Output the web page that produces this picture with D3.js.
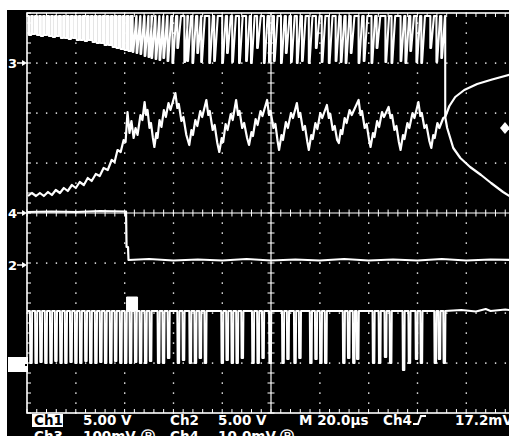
<!DOCTYPE html>
<html>
<head>
<meta charset="utf-8">
<script src="https://cdn.jsdelivr.net/npm/d3@7"></script>
<style>
  html, body { margin: 0; padding: 0; background: #fff; }
  svg { display: block; }
</style>
</head>
<body>
<div id="chart"></div>
<script>
// tempo em µs (10 div x 20 µs), tensão em divisões de tela
const ch3Trace = [[0.4,0.34],[2.0,0.40],[3.7,0.34],[5.3,0.40],[6.9,0.34],[8.6,0.42],[10.2,0.36],[11.8,0.46],[13.5,0.40],[15.1,0.50],[16.7,0.44],[18.4,0.56],[20.0,0.50],[21.6,0.62],[23.3,0.56],[24.9,0.70],[26.5,0.64],[28.2,0.78],[29.8,0.74],[31.4,0.90],[33.1,0.86],[34.7,1.06],[35.9,1.02],[37.1,1.26],[38.4,1.22],[39.6,1.46],[40.4,1.42],
  [41.2,2.02],[42.0,1.6],[42.8,1.84],[43.7,1.5],[44.5,1.7],[45.3,1.56],[46.5,1.96],[47.3,1.86],[48.2,2.22],[48.8,1.96],[49.4,2.06],[50.2,1.7],[50.8,1.8],[51.6,1.5],[52.2,1.32],
  [53.0,1.6],[53.5,1.5],[54.3,1.86],[55.1,1.72],[56.1,2.06],[56.9,1.92],[58.0,2.2],[58.8,2.06],[60.8,2.40],[61.6,2.1],[62.2,2.18],[63.3,1.84],[64.1,1.92],[65.3,1.56],[66.5,1.36],
  [67.4,1.66],[68.0,1.56],[69.0,1.86],[69.8,1.74],[71.0,2.04],[71.8,1.92],[73.5,2.26],[74.3,1.96],[74.9,2.04],[76.1,1.66],[76.9,1.76],[78.0,1.4],[78.8,1.22],
  [79.8,1.5],[80.4,1.42],[81.4,1.78],[82.2,1.66],[83.5,1.98],[84.3,1.86],[85.7,2.26],[86.5,1.96],[87.1,2.04],[88.2,1.7],[89.0,1.8],[90.2,1.5],[91.0,1.36],
  [92.0,1.62],[92.6,1.54],[93.7,1.88],[94.5,1.76],[95.7,2.04],[96.5,1.94],[98.4,2.26],[99.2,1.96],[99.8,2.04],[101.0,1.7],[101.8,1.78],[102.7,1.44],[103.3,1.26],
  [104.3,1.56],[104.9,1.46],[106.1,1.82],[106.9,1.7],[108.2,2.0],[109.0,1.9],[110.6,2.20],[111.4,1.92],[112.0,2.0],[113.1,1.66],[113.9,1.74],[114.9,1.42],[115.5,1.26],
  [116.5,1.56],[117.1,1.48],[118.2,1.8],[119.0,1.68],[120.2,2.0],[121.0,1.9],[122.9,2.16],[123.7,1.9],[124.3,1.98],[125.3,1.66],[126.1,1.74],[127.1,1.46],[127.8,1.40],
  [128.6,1.66],[129.2,1.58],[130.2,1.9],[131.0,1.8],[132.2,2.06],[133.1,1.96],[135.9,2.26],[136.7,1.96],[137.3,2.04],[138.4,1.7],[139.2,1.78],[140.2,1.46],[140.8,1.32],
  [141.8,1.6],[142.4,1.52],[143.5,1.84],[144.3,1.72],[145.5,2.02],[146.3,1.92],[148.2,2.12],[149.0,1.9],[149.6,1.96],[150.6,1.66],[151.4,1.74],[152.4,1.42],[153.1,1.26],
  [154.1,1.56],[154.7,1.48],[155.9,1.8],[156.7,1.7],[158.0,2.0],[158.8,1.9],[160.4,2.22],[161.2,1.94],[161.8,2.0],[162.9,1.7],[163.7,1.76],[164.9,1.44],[165.7,1.30],
  [166.5,1.56],[167.1,1.5],[168.2,1.8],[169.0,1.7],[170.6,1.90],[171.4,1.92]];
const ch3Upper = [[171.4,1.92],[173.1,2.14],[175.5,2.32],[179.2,2.46],[184.5,2.58],[190.6,2.67],[199.0,2.78]];
const ch3Lower = [[171.4,1.92],[172.2,1.70],[174.7,1.30],[177.6,1.10],[181.6,0.92],[186.1,0.76],[190.2,0.60],[195.1,0.42],[199.0,0.30]];

const ch4Trace = [[0,0.02],[10,0.03],[20,0.02],[30,0.04],[40.6,0.03],[40.8,-0.68],[41.4,-0.68],[41.6,-0.94],[50,-0.92],[60,-0.95],[70,-0.93],[80,-0.95],[90,-0.92],[100,-0.95],[110,-0.93],[120,-0.95],[130,-0.92],[140,-0.95],[150,-0.93],[160,-0.95],[170,-0.92],[180,-0.95],[190,-0.93],[200,-0.94]];

const ch2Top = 3.94;
const ch2End = 171.4;
const ch2Dips = [[0.8,3.56],[2.4,3.58],[4.1,3.56],[5.7,3.54],[7.3,3.56],[9.0,3.54],[10.6,3.52],[12.2,3.54],[13.9,3.5],[15.5,3.5],[17.1,3.48],[18.8,3.5],[20.4,3.46],[22.0,3.46],[23.7,3.44],[25.3,3.46],[26.9,3.42],[28.6,3.4],[30.2,3.4],[31.8,3.36],[33.5,3.36],[35.1,3.32],[36.7,3.3],[38.4,3.28],[40.0,3.26],[41.6,3.24],
  [43.3,3.22],[44.9,3.2],[46.5,3.18],[48.2,3.14],[49.8,3.12],[51.0,3.1],[52.7,3.08],[54.3,3.06],[55.9,3.1],[57.6,3.04],
  [59.6,3.0],[61.6,3.3],[64.5,3.02],[65.7,3.04],[67.8,3.0],[69.8,3.2],[71.4,3.02],[74.7,3.0],[76.7,3.04],[80.0,3.0],[82.0,3.2],[84.1,3.02],[86.9,3.0],[89.8,3.04],[91.8,3.0],[94.3,3.3],[97.1,3.0],[99.2,3.02],[101.2,3.04],[104.1,3.0],[106.1,3.2],[108.2,3.02],[110.6,3.0],[112.7,3.04],[115.5,3.0],[118.4,3.3],[120.8,3.02],[123.7,3.0],[126.5,3.04],[128.6,3.02],[130.6,3.0],[132.7,3.2],[135.9,3.0],[138.0,3.04],[141.2,3.0],[143.3,3.3],[146.9,3.02],[149.4,3.0],[153.1,3.04],[155.1,3.0],[157.1,3.24],[159.6,3.02],[161.6,3.0],[165.3,3.3],[167.8,3.02],[169.8,3.1]];

const ch1Base = -1.96;
const ch1Bump = [40.8, 45.3, -1.68];
const ch1Pulses = [[1.2,-3.0],[3.3,-3.0],[5.3,-2.98],[7.3,-3.0],[9.4,-3.0],[11.4,-2.96],[13.5,-3.0],[15.5,-3.0],[17.6,-2.98],[19.6,-3.0],[21.6,-3.0],[23.7,-2.96],[25.7,-3.0],[27.8,-3.0],[29.8,-2.98],[31.8,-3.0],[33.9,-3.0],[35.9,-2.96],[38.0,-3.0],[40.0,-3.0],[42.0,-3.0],[44.1,-2.98],[46.1,-3.0],[48.2,-3.0],[50.2,-2.96],[53.5,-3.0],[55.5,-3.0],[57.6,-2.9],[61.6,-3.0],[63.7,-2.94],[66.5,-3.0],[68.6,-3.0],[70.6,-2.9],[72.7,-3.0],[79.6,-3.0],[81.6,-2.94],[83.7,-3.0],[85.7,-3.0],[87.8,-2.9],[92.2,-3.0],[94.3,-3.0],[96.3,-2.9],[99.2,-3.0],[104.5,-3.0],[106.5,-2.92],[109.4,-3.0],[111.4,-2.9],[115.9,-3.0],[118.0,-2.92],[120.0,-3.0],[122.0,-3.0],[129.4,-3.0],[131.4,-2.9],[133.5,-3.0],[135.1,-2.92],[141.6,-3.0],[144.1,-3.0],[146.5,-2.88],[148.6,-3.0],[153.9,-3.14],[156.3,-3.0],[159.2,-2.92],[161.2,-3.0],[166.9,-3.0],[168.6,-2.92],[170.6,-3.0]];
const ch1Tail = [[171.4,-1.96],[178,-1.94],[184,-1.97],[188,-1.92],[190,-1.96],[196,-1.93],[200,-1.95]];

const triggerLevel = 1.7;
const marcadores = [{ label: "3", v: 3 }, { label: "4", v: 0 }, { label: "2", v: -1.04 }];
const ch1Marker = -3.04;

const linha1 = [
  { text: "Ch1", x: 34, box: true },
  { text: "5.00 V", x: 83 },
  { text: "Ch2", x: 170 },
  { text: "5.00 V", x: 218 },
  { text: "M 20.0µs", x: 299 },
  { text: "Ch4", x: 383 },
  { text: "17.2mV", x: 455 }
];
const linha2 = [
  { text: "Ch3", x: 34 },
  { text: "100mV", x: 83 },
  { text: "Ⓑ", x: 141 },
  { text: "Ch4", x: 170 },
  { text: "10.0mV", x: 218 },
  { text: "Ⓑ", x: 280 }
];

const width = 509, height = 436;
const x = d3.scaleLinear().domain([0, 200]).range([27, 515]);
const y = d3.scaleLinear().domain([-4, 4]).range([413, 13]);

const svg = d3.select("#chart").append("svg")
  .attr("width", width).attr("height", height);

svg.append("rect").attr("width", width).attr("height", height).attr("fill", "#fff");
svg.append("rect").attr("x", 7).attr("y", 10).attr("width", width - 7).attr("height", height - 10).attr("fill", "#000");

svg.append("clipPath").attr("id", "tela")
  .append("rect").attr("x", 27).attr("y", 11).attr("width", 482).attr("height", 403);

// --- GRATICULA ---
const grade = svg.append("g").attr("fill", "#fff");
const minX = d3.range(0, 200.01, 4);
const minY = d3.range(-4, 4.01, 0.2);

[20, 40, 60, 80, 120, 140, 160, 180].forEach(t => {
  minY.forEach(v => grade.append("rect").attr("x", x(t) - 0.6).attr("y", y(v) - 0.6).attr("width", 1.4).attr("height", 1.4));
});
[3, 2, 1, -1, -2, -3].forEach(v => {
  minX.forEach(t => grade.append("rect").attr("x", x(t) - 0.6).attr("y", y(v) - 0.6).attr("width", 1.4).attr("height", 1.4));
});

const linhas = svg.append("g").attr("stroke", "#fff").attr("fill", "none");
linhas.append("line").attr("x1", x(0)).attr("x2", x(200)).attr("y1", y(0)).attr("y2", y(0)).attr("stroke-width", 1.2);
linhas.append("line").attr("x1", x(100)).attr("x2", x(100)).attr("y1", y(4)).attr("y2", y(-4)).attr("stroke-width", 1.2);
minX.forEach(t => {
  linhas.append("line").attr("x1", x(t)).attr("x2", x(t)).attr("y1", y(0) - 3.5).attr("y2", y(0) + 3.5);
  linhas.append("line").attr("x1", x(t)).attr("x2", x(t)).attr("y1", y(-4)).attr("y2", y(-4) - 4);
  linhas.append("line").attr("x1", x(t)).attr("x2", x(t)).attr("y1", y(4)).attr("y2", y(4) + 4);
});
minY.forEach(v => {
  linhas.append("line").attr("x1", x(100) - 3.5).attr("x2", x(100) + 3.5).attr("y1", y(v)).attr("y2", y(v));
  linhas.append("line").attr("x1", x(0)).attr("x2", x(0) + 4).attr("y1", y(v)).attr("y2", y(v));
});
linhas.append("rect").attr("x", x(0)).attr("y", y(4)).attr("width", x(200) - x(0)).attr("height", y(-4) - y(4)).attr("stroke-width", 1.6);

// --- TRAÇOS ---
const line = d3.line().x(d => x(d[0])).y(d => y(d[1]));
const tracos = svg.append("g").attr("clip-path", "url(#tela)")
  .attr("fill", "none").attr("stroke", "#fff").attr("stroke-linejoin", "round");

// Ch2 (topo)
const ptsCh2 = [[0, ch2Top]];
ch2Dips.forEach(([t, d]) => {
  if (t < 42) ptsCh2.push([t, ch2Top], [t, d], [t + 0.9, d], [t + 0.9, ch2Top]);
  else ptsCh2.push([t, ch2Top], [t, d], [t + 0.3, d], [t + 1.5, ch2Top]);
});
ptsCh2.push([ch2End, ch2Top], [ch2End, ch3Trace[ch3Trace.length - 1][1]]);
tracos.append("path").attr("d", line(ptsCh2)).attr("stroke-width", 2.1);

// Ch3
tracos.append("path").attr("d", line(ch3Trace)).attr("stroke-width", 2.2);
tracos.append("path").attr("d", line(ch3Upper)).attr("stroke-width", 2.2);
tracos.append("path").attr("d", line(ch3Lower)).attr("stroke-width", 2.2);

// Ch4
tracos.append("path").attr("d", line(ch4Trace)).attr("stroke-width", 2.2);

// Ch1 (pulsos)
const ptsCh1 = [[0, ch1Base]];
ch1Pulses.forEach(([t, d]) => {
  ptsCh1.push([t, ch1Base], [t + 0.15, d], [t + 0.75, d], [t + 0.9, ch1Base]);
});
ptsCh1.push(...ch1Tail);
tracos.append("path").attr("d", line(ptsCh1)).attr("stroke-width", 2);
tracos.append("rect")
  .attr("x", x(ch1Bump[0])).attr("y", y(ch1Bump[2]))
  .attr("width", x(ch1Bump[1]) - x(ch1Bump[0])).attr("height", y(ch1Base) - y(ch1Bump[2]))
  .attr("fill", "#fff");

// marcador de trigger
const ty = y(triggerLevel);
svg.append("path").attr("d", `M500,${ty}L505,${ty - 6}L510,${ty}L505,${ty + 6}Z`).attr("fill", "#fff");

// marcadores de canal
const fonte = "'DejaVu Sans', sans-serif";
marcadores.forEach(m => {
  const my = y(m.v);
  svg.append("text").attr("x", 8).attr("y", my + 5).text(m.label)
    .attr("fill", "#fff").style("font-family", fonte).style("font-weight", "bold").style("font-size", "13px");
  svg.append("line").attr("x1", 17).attr("x2", 25).attr("y1", my).attr("y2", my).attr("stroke", "#fff").attr("stroke-width", 1.5);
  svg.append("path").attr("d", `M22,${my - 3}L27,${my}L22,${my + 3}Z`).attr("fill", "#fff");
});
svg.append("rect").attr("x", 8).attr("y", y(ch1Marker) - 8).attr("width", 20).attr("height", 15).attr("fill", "#fff");
svg.append("rect").attr("x", 25).attr("y", y(ch1Marker) - 1).attr("width", 2).attr("height", 2).attr("fill", "#000");

// --- TEXTO DE STATUS ---
linha1.forEach(d => {
  if (d.box) svg.append("rect").attr("x", d.x - 2).attr("y", 414).attr("width", 31).attr("height", 13).attr("fill", "#fff");
  svg.append("text").attr("x", d.x).attr("y", 425).text(d.text)
    .attr("fill", d.box ? "#000" : "#fff")
    .style("font-family", fonte).style("font-weight", "bold").style("font-size", "13.5px");
});
svg.append("path").attr("d", "M413,424L418,424L421,416L426,416").attr("fill", "none").attr("stroke", "#fff").attr("stroke-width", 2);
linha2.forEach(d => {
  svg.append("text").attr("x", d.x).attr("y", 441).text(d.text)
    .attr("fill", "#fff")
    .style("font-family", fonte).style("font-weight", "bold").style("font-size", "13.5px");
});
</script>
</body>
</html>
